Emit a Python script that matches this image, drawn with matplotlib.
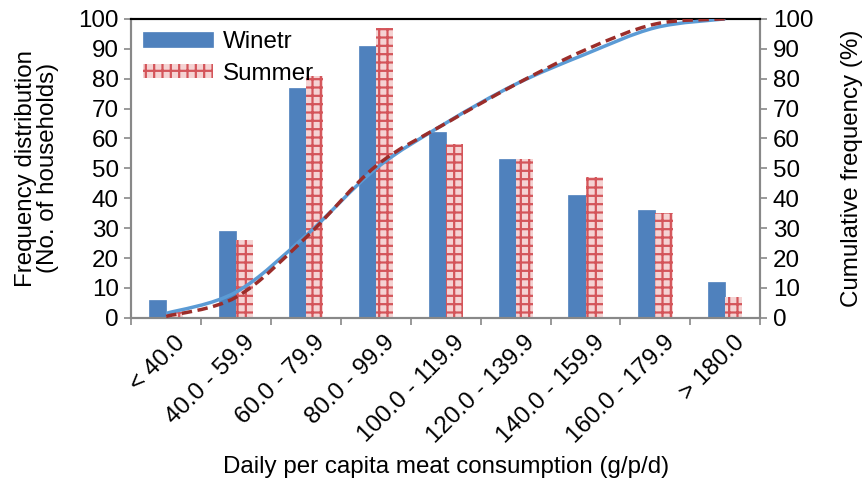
import matplotlib.pyplot as plt
import matplotlib.transforms as mtransforms
import numpy as np
from matplotlib.path import Path
from matplotlib.patches import PathPatch

plt.rcParams['font.family'] = ['Liberation Sans', 'DejaVu Sans']
plt.rcParams['hatch.linewidth'] = 1.6

categories = ['< 40.0', '40.0 - 59.9', '60.0 - 79.9', '80.0 - 99.9', '100.0 - 119.9',
              '120.0 - 139.9', '140.0 - 159.9', '160.0 - 179.9', '> 180.0']
winter = [6, 29, 77, 91, 62, 53, 41, 36, 12]
summer = [2, 26, 81, 97, 58, 53, 47, 35, 7]

winter_cum = 100.0 * np.cumsum(winter) / np.sum(winter)
summer_cum = 100.0 * np.cumsum(summer) / np.sum(summer)


def smooth_path(x, y):
    # Excel-like smoothed line: Catmull-Rom segments as cubic Beziers
    x = np.asarray(x, float)
    y = np.asarray(y, float)
    verts = [(x[0], y[0])]
    codes = [Path.MOVETO]
    n = len(x)
    for i in range(n - 1):
        x0, y0 = (x[i - 1], y[i - 1]) if i > 0 else (x[i], y[i])
        x3, y3 = (x[i + 2], y[i + 2]) if i + 2 < n else (x[i + 1], y[i + 1])
        c1 = (x[i] + (x[i + 1] - x0) / 6.0, y[i] + (y[i + 1] - y0) / 6.0)
        c2 = (x[i + 1] - (x3 - x[i]) / 6.0, y[i + 1] - (y3 - y[i]) / 6.0)
        verts += [c1, c2, (x[i + 1], y[i + 1])]
        codes += [Path.CURVE4] * 3
    return Path(verts, codes)


fs = 17.4

fig = plt.figure(figsize=(8.63, 4.83), dpi=100)
ax = fig.add_axes([0.152, 0.342, 0.729, 0.619])

xpos = np.arange(len(categories))
w = 0.245
ax.bar(xpos - w / 2, winter, width=w, color='#4f81bd', edgecolor='#4f81bd',
       linewidth=0.5, label='Winetr', zorder=2)
ax.bar(xpos + w / 2, summer, width=w, color='#f5d3d3', edgecolor='#d4555a',
       hatch='++', linewidth=0, label='Summer', zorder=2)

ax2 = ax.twinx()
ax2.add_patch(PathPatch(smooth_path(xpos, winter_cum), facecolor='none',
                        edgecolor='#5b9bd5', linewidth=2.5, zorder=3))
ax2.add_patch(PathPatch(smooth_path(xpos, summer_cum), facecolor='none',
                        edgecolor='#9b2d2a', linewidth=2.5, linestyle=(0, (3, 1.6)), zorder=4))

for a in (ax, ax2):
    a.set_xlim(-0.5, len(categories) - 0.5)
    a.set_ylim(0, 100)
    a.set_yticks(range(0, 101, 10))
    a.tick_params(axis='y', labelsize=fs, color='#888888', length=5, width=1.2, pad=4)
    for s in ('left', 'right', 'bottom'):
        a.spines[s].set_color('#888888')
        a.spines[s].set_linewidth(1.5)
    a.spines['top'].set_color('black')
    a.spines['top'].set_linewidth(1.5)

ax.set_xticks(xpos)
ax.set_xticklabels(categories, rotation=45, ha='right', rotation_mode='anchor', fontsize=fs)
ax.tick_params(axis='x', which='major', length=0, pad=10)
shift = mtransforms.ScaledTranslation(8 / 100, 0, fig.dpi_scale_trans)
for lbl in ax.get_xticklabels():
    lbl.set_transform(lbl.get_transform() + shift)
ax.set_xticks(np.arange(-0.5, len(categories), 1.0), minor=True)
ax.tick_params(axis='x', which='minor', length=5, width=1.2, color='#888888')

ax.set_ylabel('Frequency distribution\n(No. of households)', fontsize=fs, labelpad=14,
              linespacing=1.0)
ax2.set_ylabel('Cumulative frequency (%)', fontsize=fs, labelpad=20)
ax.set_xlabel('Daily per capita meat consumption (g/p/d)', fontsize=fs, labelpad=6)

ax.legend(loc='upper left', fontsize=fs, frameon=False, handlelength=2.9, handleheight=0.55,
          handletextpad=0.4, borderaxespad=0.1, labelspacing=0.4, bbox_to_anchor=(0.0, 1.0))

fig.savefig('out.png', dpi=100)
